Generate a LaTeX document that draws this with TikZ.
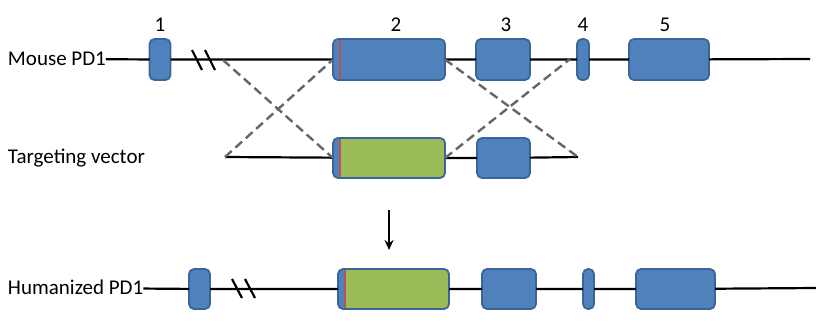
\documentclass[tikz,border=0pt]{standalone}
\usepackage{fontspec}
\setmainfont{Carlito}
\usetikzlibrary{arrows.meta, positioning, calc}
\definecolor{exonblue}{HTML}{4F81BD}
\definecolor{exonedge}{HTML}{3A6598}
\definecolor{humangreen}{HTML}{9BBB59}
\definecolor{junction}{HTML}{C0504D}
\definecolor{armgray}{HTML}{666666}
\tikzset{
  exon/.style={draw=exonedge, fill=exonblue, line width=1.8pt, rounded corners=5pt,
    minimum height=41pt, inner sep=0pt, outer sep=0pt},
  junctionmark/.style={path picture={
    \draw[junction, line width=2pt]
      ([xshift=7pt]path picture bounding box.south west) --
      ([xshift=7pt]path picture bounding box.north west);}},
  humanexon/.style={exon, fill=humangreen, path picture={
    \fill[exonblue] (path picture bounding box.south west) rectangle
      ([xshift=7pt]path picture bounding box.north west);
    \draw[junction, line width=2pt]
      ([xshift=7pt]path picture bounding box.south west) --
      ([xshift=7pt]path picture bounding box.north west);}},
  rowlabel/.style={anchor=west, inner sep=0pt, outer sep=0pt, text height=13pt,
    text depth=0pt, font=\fontsize{21}{25}\selectfont},
  exonnum/.style={inner sep=0pt, font=\fontsize{21}{25}\selectfont},
  dna/.style={line width=2.2pt},
  arm/.style={armgray, line width=2.4pt, dash pattern=on 9pt off 5pt},
}
\begin{document}
\begin{tikzpicture}[x=1pt, y=-1pt]
  \useasboundingbox (0,0) rectangle (816,325);

  % Mouse PD1
  \node[rowlabel] (mlab) at (8,59) {Mouse PD1};
  \node[exon, minimum width=21pt] (m1) at (160,59.5) {};
  \node[exon, junctionmark, minimum width=112pt] (m2) at (389,59.5) {};
  \node[exon, minimum width=54pt] (m3) at (503,59.5) {};
  \node[exon, minimum width=12pt] (m4) at (583,59.5) {};
  \node[exon, minimum width=80pt] (m5) at (669,59.5) {};
  \coordinate (mend) at (810,59);
  \draw[dna] (mlab) -- (m1) -- (m2) -- (m3) -- (m4) -- (m5) -- (mend);
  \draw[dna] (192,50) -- (202,70);
  \draw[dna] (205,50) -- (215,70);

  \node[exonnum] (n1) at (160,25) {1};
  \node[exonnum] (n2) at (396,25) {2};
  \node[exonnum] (n3) at (506,25) {3};
  \node[exonnum] (n4) at (583,25) {4};
  \node[exonnum] (n5) at (665,25) {5};

  % Targeting vector
  \node[rowlabel] (tlab) at (8,157) {Targeting vector};
  \coordinate (tstart) at (225,157);
  \coordinate (tend) at (578,157);
  \node[humanexon, minimum width=112pt, minimum height=40pt] (t2) at (389,158) {};
  \node[exon, minimum width=53pt, minimum height=40pt] (t3) at (503.5,158) {};
  \draw[dna] (tstart) -- (t2) -- (t3) -- (tend);

  % homology arms
  \coordinate (lcross) at (223,60);
  \coordinate (rcross) at (570,59);
  \draw[arm] (lcross) -- (t2.west);
  \draw[arm] (tstart) -- (m2.west);
  \draw[arm] (m2.east) -- (tend);
  \draw[arm] (t2.east) -- (rcross);

  \draw[line width=2pt, -{Stealth[length=10pt, width=9pt]}, shorten <=32pt, shorten >=19pt]
    (t2.south) -- (t2.south |- 0,269);

  % Humanized PD1
  \node[rowlabel] (hlab) at (8,288) {Humanized PD1};
  \node[exon, minimum width=21pt, minimum height=40pt] (h1) at (199.5,289) {};
  \node[humanexon, minimum width=111pt, minimum height=40pt] (h2) at (393.5,289) {};
  \node[exon, minimum width=54pt, minimum height=40pt] (h3) at (509,289) {};
  \node[exon, minimum width=11pt, minimum height=40pt] (h4) at (588.5,289) {};
  \node[exon, minimum width=79pt, minimum height=40pt] (h5) at (675.5,289) {};
  \coordinate (hend) at (816,288);
  \draw[dna] (hlab) -- (h1) -- (h2) -- (h3) -- (h4) -- (h5) -- (hend);
  \draw[dna] (232,279) -- (242,298);
  \draw[dna] (245,279) -- (255,298);
\end{tikzpicture}
\end{document}
